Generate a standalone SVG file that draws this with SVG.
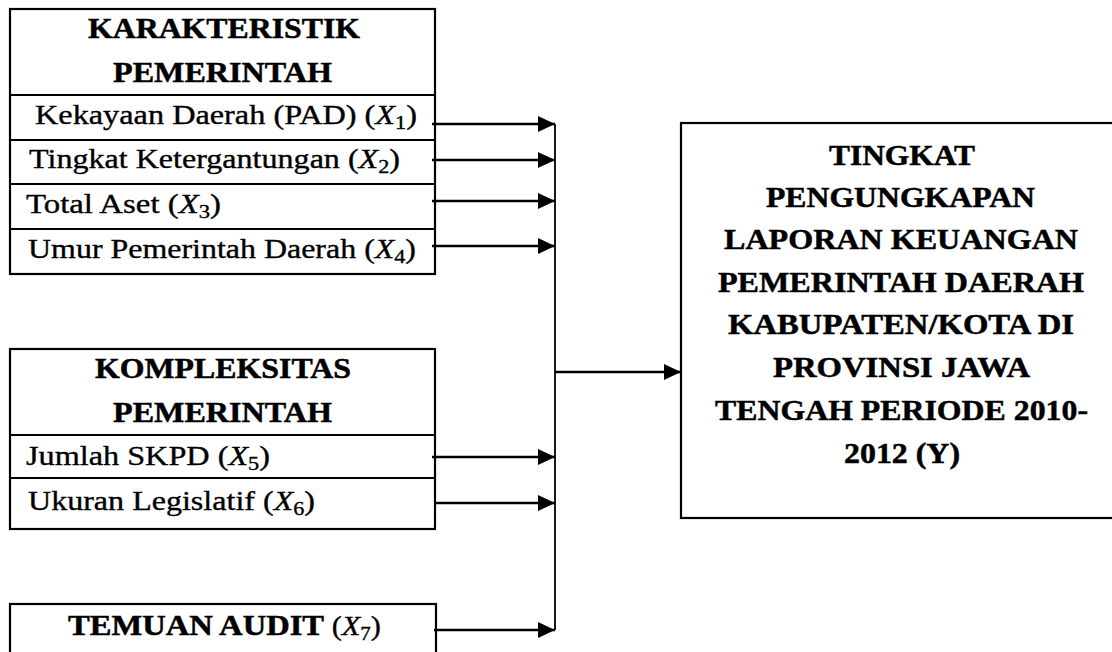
<svg xmlns="http://www.w3.org/2000/svg" width="1112" height="652" viewBox="0 0 1112 652">
<defs>
<marker id="ah" markerUnits="userSpaceOnUse" markerWidth="17" markerHeight="16" refX="17" refY="8" orient="auto">
<path d="M0,0 L17,8 L0,16 z" fill="#000"/>
</marker>
<style>
.box{fill:none;stroke:#000;stroke-width:2.2}
.sep{stroke:#000;stroke-width:2.2}
.t{font-family:"Liberation Serif","Times New Roman",serif;font-size:27.5px;fill:#000;stroke:#000;stroke-width:0.35}
.b{font-weight:bold;font-size:29.5px;stroke-width:0.5}
.m{font-style:italic}
.s{font-size:19px}
.c{fill:none;stroke:#000;stroke-width:2.4}
.v{fill:none;stroke:#000;stroke-width:1.8}
</style>
</defs>
<rect width="1112" height="652" fill="#fff"/>
<g id="karakteristik">
<rect class="box" x="10" y="9" width="425" height="265"/>
<line class="sep" x1="10" y1="95" x2="435" y2="95"/>
<line class="sep" x1="10" y1="140" x2="435" y2="140"/>
<line class="sep" x1="10" y1="184" x2="435" y2="184"/>
<line class="sep" x1="10" y1="229" x2="435" y2="229"/>
<text class="t b" x="88" y="38" textLength="272" lengthAdjust="spacingAndGlyphs">KARAKTERISTIK</text>
<text class="t b" x="113" y="82" textLength="219" lengthAdjust="spacingAndGlyphs">PEMERINTAH</text>
<text class="t" x="35" y="124" textLength="382" lengthAdjust="spacingAndGlyphs">Kekayaan Daerah (PAD) (<tspan class="m">X</tspan><tspan class="s" dy="5">1</tspan><tspan dy="-5">)</tspan></text>
<text class="t" x="29" y="168" textLength="371" lengthAdjust="spacingAndGlyphs">Tingkat Ketergantungan (<tspan class="m">X</tspan><tspan class="s" dy="5">2</tspan><tspan dy="-5">)</tspan></text>
<text class="t" x="26" y="213" textLength="195" lengthAdjust="spacingAndGlyphs">Total Aset (<tspan class="m">X</tspan><tspan class="s" dy="5">3</tspan><tspan dy="-5">)</tspan></text>
<text class="t" x="28" y="258" textLength="388" lengthAdjust="spacingAndGlyphs">Umur Pemerintah Daerah (<tspan class="m">X</tspan><tspan class="s" dy="5">4</tspan><tspan dy="-5">)</tspan></text>
</g>
<g id="kompleksitas">
<rect class="box" x="10" y="349" width="425" height="180"/>
<line class="sep" x1="10" y1="435" x2="435" y2="435"/>
<line class="sep" x1="10" y1="478" x2="435" y2="478"/>
<text class="t b" x="95" y="378" textLength="256" lengthAdjust="spacingAndGlyphs">KOMPLEKSITAS</text>
<text class="t b" x="113" y="422" textLength="219" lengthAdjust="spacingAndGlyphs">PEMERINTAH</text>
<text class="t" x="26" y="465" textLength="244" lengthAdjust="spacingAndGlyphs">Jumlah SKPD (<tspan class="m">X</tspan><tspan class="s" dy="5">5</tspan><tspan dy="-5">)</tspan></text>
<text class="t" x="28" y="510" textLength="287" lengthAdjust="spacingAndGlyphs">Ukuran Legislatif (<tspan class="m">X</tspan><tspan class="s" dy="5">6</tspan><tspan dy="-5">)</tspan></text>
</g>
<g id="temuan">
<rect class="box" x="10" y="604" width="426" height="60"/>
<text class="t" x="68" y="635" textLength="313" lengthAdjust="spacingAndGlyphs"><tspan class="b">TEMUAN AUDIT</tspan> (<tspan class="m">X</tspan><tspan class="s" dy="5">7</tspan><tspan dy="-5">)</tspan></text>
</g>
<g id="tingkat">
<rect class="box" x="681" y="123" width="440" height="395"/>
<text class="t b" x="829" y="165" textLength="146" lengthAdjust="spacingAndGlyphs">TINGKAT</text>
<text class="t b" x="766" y="207" textLength="269" lengthAdjust="spacingAndGlyphs">PENGUNGKAPAN</text>
<text class="t b" x="724" y="249" textLength="354" lengthAdjust="spacingAndGlyphs">LAPORAN KEUANGAN</text>
<text class="t b" x="718" y="292" textLength="366" lengthAdjust="spacingAndGlyphs">PEMERINTAH DAERAH</text>
<text class="t b" x="728" y="334" textLength="346" lengthAdjust="spacingAndGlyphs">KABUPATEN/KOTA DI</text>
<text class="t b" x="773" y="377" textLength="257" lengthAdjust="spacingAndGlyphs">PROVINSI JAWA</text>
<text class="t b" x="715" y="420" textLength="373" lengthAdjust="spacingAndGlyphs">TENGAH PERIODE 2010-</text>
<text class="t b" x="844" y="463" textLength="116" lengthAdjust="spacingAndGlyphs">2012 (Y)</text>
</g>
<g id="connectors">
<line class="v" x1="555" y1="124" x2="555" y2="630"/>
<line class="c" x1="432" y1="124" x2="555" y2="124" marker-end="url(#ah)"/>
<line class="c" x1="432" y1="160" x2="555" y2="160" marker-end="url(#ah)"/>
<line class="c" x1="432" y1="201" x2="555" y2="201" marker-end="url(#ah)"/>
<line class="c" x1="432" y1="246" x2="555" y2="246" marker-end="url(#ah)"/>
<line class="c" x1="432" y1="457" x2="555" y2="457" marker-end="url(#ah)"/>
<line class="c" x1="435" y1="503" x2="555" y2="503" marker-end="url(#ah)"/>
<line class="c" x1="434" y1="630" x2="555" y2="630" marker-end="url(#ah)"/>
<line class="c" x1="555" y1="372" x2="681" y2="372" marker-end="url(#ah)"/>
</g>
</svg>
